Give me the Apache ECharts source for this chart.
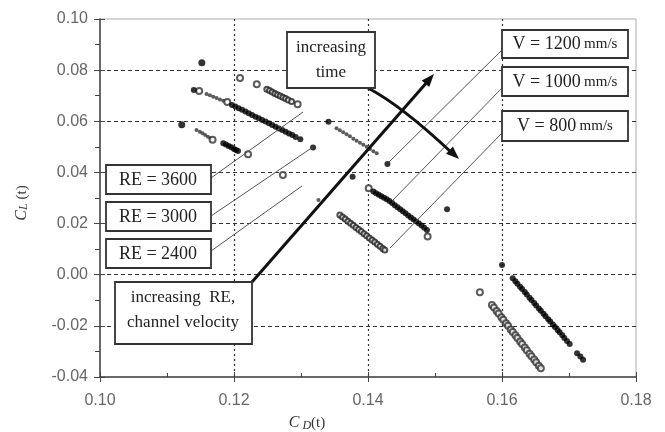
<!DOCTYPE html>
<html><head><meta charset="utf-8">
<script src="https://cdn.jsdelivr.net/npm/echarts@6/dist/echarts.min.js"></script>
<style>html,body{margin:0;padding:0;background:#fff}#c{width:665px;height:432px}</style>
</head><body><div id="c"></div>
<script>
// Axis ranges / ticks
const xMin = 0.10, xMax = 0.18, xStep = 0.02;
const yMin = -0.04, yMax = 0.10, yStep = 0.02;

// Large isolated filled points
const bigX = [0.1152, 0.1122];
const bigY = [0.0829, 0.0586];

// Filled black points
const filledX = [0.1140,
  0.1197,0.1202,0.1207,0.1212,0.1217,0.1222,0.1227,0.1232,0.1237,0.1242,0.1247,0.1252,0.1257,0.1262,0.1267,0.1272,0.1277,0.1282,0.1287,0.1292,0.1299,
  0.1184,0.1188,0.1192,0.1196,0.1200,0.1203,0.1206,
  0.1318,0.1341,0.1377,0.1429,
  0.1408,0.1412,0.1416,0.1420,0.1424,0.1428,0.1432,0.1436,0.1440,0.1444,0.1448,0.1452,0.1456,0.1460,0.1464,0.1468,0.1472,0.1476,0.1480,0.1484,0.1488,
  0.1518,0.1600,
  0.1616,0.1620,0.1623,0.1627,0.1630,0.1634,0.1637,0.1641,0.1644,0.1648,0.1651,0.1655,0.1658,0.1662,0.1665,0.1669,0.1672,0.1676,0.1679,0.1683,0.1686,0.1690,0.1693,0.1697,0.1701,
  0.1712,0.1717,0.1721];
const filledY = [0.0722,
  0.0664,0.0658,0.0651,0.0645,0.0638,0.0631,0.0625,0.0618,0.0612,0.0605,0.0599,0.0592,0.0585,0.0579,0.0572,0.0566,0.0559,0.0552,0.0546,0.0539,0.0530,
  0.0514,0.0509,0.0503,0.0498,0.0492,0.0488,0.0484,
  0.0497,0.0598,0.0383,0.0433,
  0.0325,0.0319,0.0313,0.0307,0.0301,0.0295,0.0288,0.0280,0.0272,0.0264,0.0256,0.0248,0.0240,0.0232,0.0224,0.0216,0.0208,0.0200,0.0192,0.0184,0.0175,
  0.0256,0.0038,
  -0.0014,-0.0026,-0.0035,-0.0047,-0.0056,-0.0068,-0.0077,-0.0090,-0.0099,-0.0111,-0.0120,-0.0132,-0.0141,-0.0153,-0.0162,-0.0174,-0.0183,-0.0195,-0.0204,-0.0216,-0.0225,-0.0237,-0.0247,-0.0259,-0.0271,
  -0.0307,-0.0320,-0.0333];

// Small gray points
const smallX = [0.1159,0.1164,0.1169,0.1174,0.1179,0.1184,
  0.1144,0.1149,0.1153,0.1157,0.1161,0.1165,
  0.1353,0.1358,0.1363,0.1368,0.1373,0.1378,0.1383,0.1388,0.1393,0.1398,0.1403,0.1408,0.1413,
  0.1326];
const smallY = [0.0707,0.0702,0.0696,0.0691,0.0685,0.0680,
  0.0566,0.0559,0.0553,0.0546,0.0540,0.0534,
  0.0573,0.0565,0.0557,0.0549,0.0541,0.0532,0.0524,0.0516,0.0508,0.0500,0.0492,0.0483,0.0475,
  0.0292];

// Open circles
const openX = [0.1148,0.1190,0.1168,0.1221,0.1209,0.1234,0.1295,0.1273,0.1401,0.1489,0.1567,
  0.1585,0.1588,0.1592,0.1595,0.1599,0.1602,0.1606,0.1609,0.1613,0.1616,0.1620,0.1623,0.1627,0.1630,0.1634,0.1637,0.1641,0.1644,0.1648,0.1651,0.1655,0.1658];
const openY = [0.0718,0.0675,0.0528,0.0471,0.0769,0.0745,0.0667,0.0390,0.0338,0.0149,-0.0069,
  -0.0118,-0.0128,-0.0142,-0.0152,-0.0166,-0.0176,-0.0190,-0.0200,-0.0214,-0.0224,-0.0237,-0.0247,-0.0261,-0.0271,-0.0285,-0.0295,-0.0309,-0.0319,-0.0332,-0.0342,-0.0356,-0.0366];

// Dense dark open circles
const denseX = [0.1249,0.1253,0.1257,0.1261,0.1265,0.1269,0.1273,0.1277,0.1281,0.1286,
  0.1358,0.1362,0.1366,0.1370,0.1374,0.1378,0.1382,0.1386,0.1390,0.1394,0.1398,0.1402,0.1406,0.1410,0.1414,0.1418,0.1422,0.1425];
const denseY = [0.0725,0.0720,0.0715,0.0709,0.0704,0.0699,0.0694,0.0689,0.0683,0.0677,
  0.0234,0.0226,0.0218,0.0209,0.0201,0.0193,0.0185,0.0177,0.0169,0.0160,0.0152,0.0144,0.0136,0.0128,0.0119,0.0111,0.0103,0.0097];

const zip = (xs, ys) => xs.map((x, i) => [x, ys[i]]);

const serif = '"Liberation Serif", "Times New Roman", serif';
function arrowHead(x1, y1, x2, y2, len, hw) {
  const a = Math.atan2(y2 - y1, x2 - x1);
  const bx = x2 - len * Math.cos(a), by = y2 - len * Math.sin(a);
  const px = -Math.sin(a) * hw, py = Math.cos(a) * hw;
  return [[x2, y2], [bx + px, by + py], [bx - px, by - py]];
}
function box(x, y, w, h) {
  return {type: 'rect', shape: {x: x, y: y, width: w, height: h}, z: 100,
    style: {fill: '#fff', stroke: '#333', lineWidth: 1.8}};
}
function label(x, y, txt, size) {
  return {type: 'text', x: x, y: y, z: 101,
    style: {text: txt, font: size + 'px ' + serif, fill: '#222', align: 'center', verticalAlign: 'middle', textAlign: 'center', textVerticalAlign: 'middle'}};
}
function vlabel(x, y, num) {
  return {type: 'text', x: x, y: y, z: 101,
    style: {text: '{a|V = ' + num + '} {b|mm/s}', align: 'center', verticalAlign: 'middle', textAlign: 'center', textVerticalAlign: 'middle',
      rich: {a: {font: '18px ' + serif, fill: '#222'}, b: {font: '15px ' + serif, fill: '#222'}}}};
}
function leader(x1, y1, x2, y2) {
  return {type: 'line', z: 90, shape: {x1: x1, y1: y1, x2: x2, y2: y2}, style: {stroke: '#555', lineWidth: 1}};
}

const g = [];
// leader lines
g.push(leader(211, 178, 303, 112));
g.push(leader(211, 216, 313, 147));
g.push(leader(211, 251, 302, 186));
g.push(leader(502, 50, 389, 162));
g.push(leader(502, 88, 393, 200));
g.push(leader(502, 133, 390, 248));
// increasing RE arrow
g.push({type: 'line', z: 95, shape: {x1: 252, y1: 282, x2: 428, y2: 81}, style: {stroke: '#111', lineWidth: 3}});
g.push({type: 'polygon', z: 95, shape: {points: arrowHead(252, 282, 434, 74, 13, 5)}, style: {fill: '#111'}});
// increasing time arrow
g.push({type: 'bezierCurve', z: 95, shape: {x1: 368, y1: 88, x2: 452, y2: 153, cpx1: 402, cpy1: 106}, style: {stroke: '#111', lineWidth: 3, fill: null}});
g.push({type: 'polygon', z: 95, shape: {points: arrowHead(402, 106, 459, 159, 13, 5)}, style: {fill: '#111'}});
// boxes
g.push(box(106, 165, 105, 29)); g.push(label(158, 180, 'RE = 3600', 18));
g.push(box(106, 202, 105, 29)); g.push(label(158, 217, 'RE = 3000', 18));
g.push(box(106, 239, 105, 29)); g.push(label(158, 254, 'RE = 2400', 18));
g.push(box(115, 282, 137, 62)); g.push(label(183, 298, 'increasing  RE,', 17)); g.push(label(183, 323, 'channel velocity', 17));
g.push(box(287, 32, 88, 56)); g.push(label(331, 48, 'increasing', 17)); g.push(label(331, 73, 'time', 17));
g.push(box(502, 30, 126, 28)); g.push(vlabel(565, 44, '1200'));
g.push(box(502, 67, 126, 29)); g.push(vlabel(565, 82, '1000'));
g.push(box(502, 111, 126, 30)); g.push(vlabel(565, 126, '800'));
// axis titles
g.push({type: 'text', x: 22, y: 203, rotation: Math.PI / 2, z: 101,
  style: {text: '{c|C}{s|L}{n| (t)}', align: 'center', verticalAlign: 'middle', textAlign: 'center', textVerticalAlign: 'middle',
    rich: {c: {font: 'italic 16px ' + serif, fill: '#333'}, s: {font: 'italic 12px ' + serif, fill: '#333', padding: [4, 0, 0, 0]}, n: {font: '15px ' + serif, fill: '#333'}}}});
g.push({type: 'text', x: 307, y: 423, z: 101,
  style: {text: '{c|C}{s| D}{n|(t)}', align: 'center', verticalAlign: 'middle', textAlign: 'center', textVerticalAlign: 'middle',
    rich: {c: {font: 'italic 16px ' + serif, fill: '#333'}, s: {font: 'italic 12px ' + serif, fill: '#333', padding: [5, 0, 0, 0]}, n: {font: '15px ' + serif, fill: '#333'}}}});

const axisColor = '#444';
const option = {
  animation: false,
  backgroundColor: '#fff',
  grid: {left: 100, right: 29, top: 19, bottom: 55, show: true, borderColor: '#aaa', borderWidth: 1, backgroundColor: 'transparent'},
  xAxis: [
    {type: 'value', min: xMin, max: xMax, interval: xStep, position: 'bottom',
      axisLine: {show: true, onZero: false, lineStyle: {color: axisColor, width: 1.5}},
      axisTick: {show: true, inside: false, length: 5, lineStyle: {color: axisColor, width: 1}},
      axisLabel: {color: '#666', fontSize: 16, fontFamily: 'Liberation Sans, Arial', margin: 16, formatter: v => v.toFixed(2)},
      splitLine: {show: true, showMinLine: false, showMaxLine: false, lineStyle: {color: '#333', width: 1.2, type: [2, 3]}}},
    {type: 'value', min: xMin, max: xMax, interval: xStep, position: 'bottom',
      axisLine: {show: false, onZero: false}, axisLabel: {show: false}, splitLine: {show: false},
      axisTick: {show: true, inside: true, length: 5, lineStyle: {color: axisColor, width: 1}},
      minorTick: {show: true, splitNumber: 2, length: 4, lineStyle: {color: axisColor, width: 1}}}
  ],
  yAxis: [
    {type: 'value', min: yMin, max: yMax, interval: yStep, position: 'left',
      axisLine: {show: true, onZero: false, lineStyle: {color: axisColor, width: 1.5}},
      axisTick: {show: true, inside: false, length: 6, lineStyle: {color: axisColor, width: 1}},
      minorTick: {show: true, splitNumber: 2, length: 5, lineStyle: {color: axisColor, width: 1}},
      axisLabel: {color: '#666', fontSize: 16, fontFamily: 'Liberation Sans, Arial', margin: 12, formatter: v => v.toFixed(2)},
      splitLine: {show: true, showMinLine: false, showMaxLine: false, lineStyle: {color: '#333', width: 1.2, type: [4, 3]}}},
    {type: 'value', min: yMin, max: yMax, interval: yStep, position: 'left',
      axisLine: {show: false, onZero: false}, axisLabel: {show: false}, splitLine: {show: false},
      axisTick: {show: true, inside: true, length: 5, lineStyle: {color: axisColor, width: 1}}}
  ],
  series: [
    {type: 'scatter', name: 'dense', xAxisIndex: 0, yAxisIndex: 0, data: zip(denseX, denseY), symbol: 'emptyCircle', symbolSize: 5,
      itemStyle: {color: '#222', borderWidth: 1.5}, z: 3},
    {type: 'scatter', name: 'small', xAxisIndex: 0, yAxisIndex: 0, data: zip(smallX, smallY), symbol: 'circle', symbolSize: 4,
      itemStyle: {color: '#333'}, z: 3},
    {type: 'scatter', name: 'open', xAxisIndex: 0, yAxisIndex: 0, data: zip(openX, openY), symbol: 'emptyCircle', symbolSize: 6,
      itemStyle: {color: '#333', borderWidth: 1.2}, z: 4},
    {type: 'scatter', name: 'filled', xAxisIndex: 0, yAxisIndex: 0, data: zip(filledX, filledY), symbol: 'circle', symbolSize: 6,
      itemStyle: {color: '#000'}, z: 5},
    {type: 'scatter', name: 'big', xAxisIndex: 0, yAxisIndex: 0, data: zip(bigX, bigY), symbol: 'circle', symbolSize: 7,
      itemStyle: {color: '#000'}, z: 5}
  ],
  graphic: {elements: g}
};
const chart = echarts.init(document.getElementById('c'), null, {renderer: 'canvas'});
chart.setOption(option);
</script>
</body></html>
